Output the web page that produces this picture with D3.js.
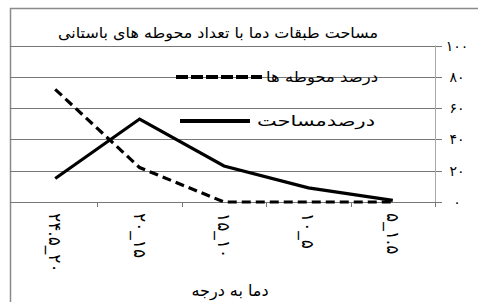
<!DOCTYPE html>
<html>
<head>
<meta charset="utf-8">
<script src="https://cdn.jsdelivr.net/npm/d3@7"></script>
<style>
  body { margin: 0; background: #fff; }
  svg { display: block; font-family: "DejaVu Sans", sans-serif; }
</style>
</head>
<body>
<svg id="chart" width="478" height="302"></svg>
<script>
// data
const categories = ["۲۴.۵_۲۰", "۲۰_۱۵", "۱۵_۱۰", "۱۰_۵", "۵_۱.۵"];
const sitesPct = [72, 22, 0, 0, 0];   // درصد محوطه ها (dashed)
const areaPct = [15, 53, 23, 9, 1];   // درصدمساحت (solid)
const yTicks = [0, 20, 40, 60, 80, 100];
const yTickLabels = ["۰", "۲۰", "۴۰", "۶۰", "۸۰", "۱۰۰"];

const svg = d3.select("#chart");

// outer frame (only top and left edges visible)
svg.append("path")
  .attr("d", "M10.5,302 V8.5 H478")
  .attr("fill", "none")
  .attr("stroke", "#8a8a8a")
  .attr("stroke-width", 1.5);

var x = d3.scaleBand().domain(categories).range([13, 435]);
var y = d3.scaleLinear().domain([0, 100]).range([202, 45.5]);

// gridlines + right ticks
svg.append("g")
  .selectAll("line")
  .data(yTicks)
  .join("line")
  .attr("x1", 10)
  .attr("x2", 442)
  .attr("y1", d => Math.round(y(d)) + 0.5)
  .attr("y2", d => Math.round(y(d)) + 0.5)
  .attr("stroke", "#777")
  .attr("stroke-width", 1);

// right axis line
svg.append("line")
  .attr("x1", 435.5).attr("x2", 435.5)
  .attr("y1", y(100)).attr("y2", y(0) + 1)
  .attr("stroke", "#aaa");

// y labels
svg.append("g")
  .selectAll("text")
  .data(yTicks)
  .join("text")
  .attr("x", 457)
  .attr("y", d => y(d) + 5)
  .attr("text-anchor", "middle")
  .attr("font-size", 14)
  .text((d, i) => yTickLabels[i]);

// x ticks at band edges
svg.append("g")
  .selectAll("line")
  .data(categories)
  .join("line")
  .attr("x1", d => Math.round(x(d) + x.bandwidth()) + 0.5)
  .attr("x2", d => Math.round(x(d) + x.bandwidth()) + 0.5)
  .attr("y1", y(0))
  .attr("y2", y(0) + 5)
  .attr("stroke", "#777");

// rotated x labels
svg.append("g")
  .selectAll("text")
  .data(categories)
  .join("text")
  .attr("transform", d => "translate(" + (x(d) + x.bandwidth() / 2 - 6) + ",213) rotate(90)")
  .attr("text-anchor", "start")
  .attr("font-size", 17)
  .attr("letter-spacing", 3)
  .text(d => d);

var line = d3.line()
  .x((d, i) => x(categories[i]) + x.bandwidth() / 2)
  .y(d => y(d));

svg.append("path")
  .datum(sitesPct)
  .attr("fill", "none")
  .attr("stroke", "#000")
  .attr("stroke-width", 3.2)
  .attr("stroke-dasharray", "9,5")
  .attr("d", line);

svg.append("path")
  .datum(areaPct)
  .attr("fill", "none")
  .attr("stroke", "#000")
  .attr("stroke-width", 3.2)
  .attr("stroke-linejoin", "miter")
  .attr("d", line);

// title
svg.append("text")
  .attr("x", 378)
  .attr("y", 38)
  .attr("text-anchor", "end")
  .attr("font-size", 15)
  .attr("textLength", 320)
  .attr("lengthAdjust", "spacingAndGlyphs")
  .text("مساحت طبقات دما با تعداد محوطه های باستانی");

// legend
svg.append("line")
  .attr("x1", 176).attr("x2", 262)
  .attr("y1", 77).attr("y2", 77)
  .attr("stroke", "#000").attr("stroke-width", 4)
  .attr("stroke-dasharray", "12,3");
svg.append("text")
  .attr("x", 378).attr("y", 82)
  .attr("text-anchor", "end")
  .attr("font-size", 15)
  .attr("textLength", 112)
  .attr("lengthAdjust", "spacingAndGlyphs")
  .text("درصد محوطه ها");

svg.append("line")
  .attr("x1", 180).attr("x2", 250)
  .attr("y1", 121).attr("y2", 121)
  .attr("stroke", "#000").attr("stroke-width", 4);
svg.append("text")
  .attr("x", 375).attr("y", 126)
  .attr("text-anchor", "end")
  .attr("font-size", 15)
  .attr("textLength", 118)
  .attr("lengthAdjust", "spacingAndGlyphs")
  .text("درصدمساحت");

// x axis title
svg.append("text")
  .attr("x", 230).attr("y", 296)
  .attr("text-anchor", "middle")
  .attr("font-size", 16)
  .text("دما به درجه");
</script>
</body>
</html>
